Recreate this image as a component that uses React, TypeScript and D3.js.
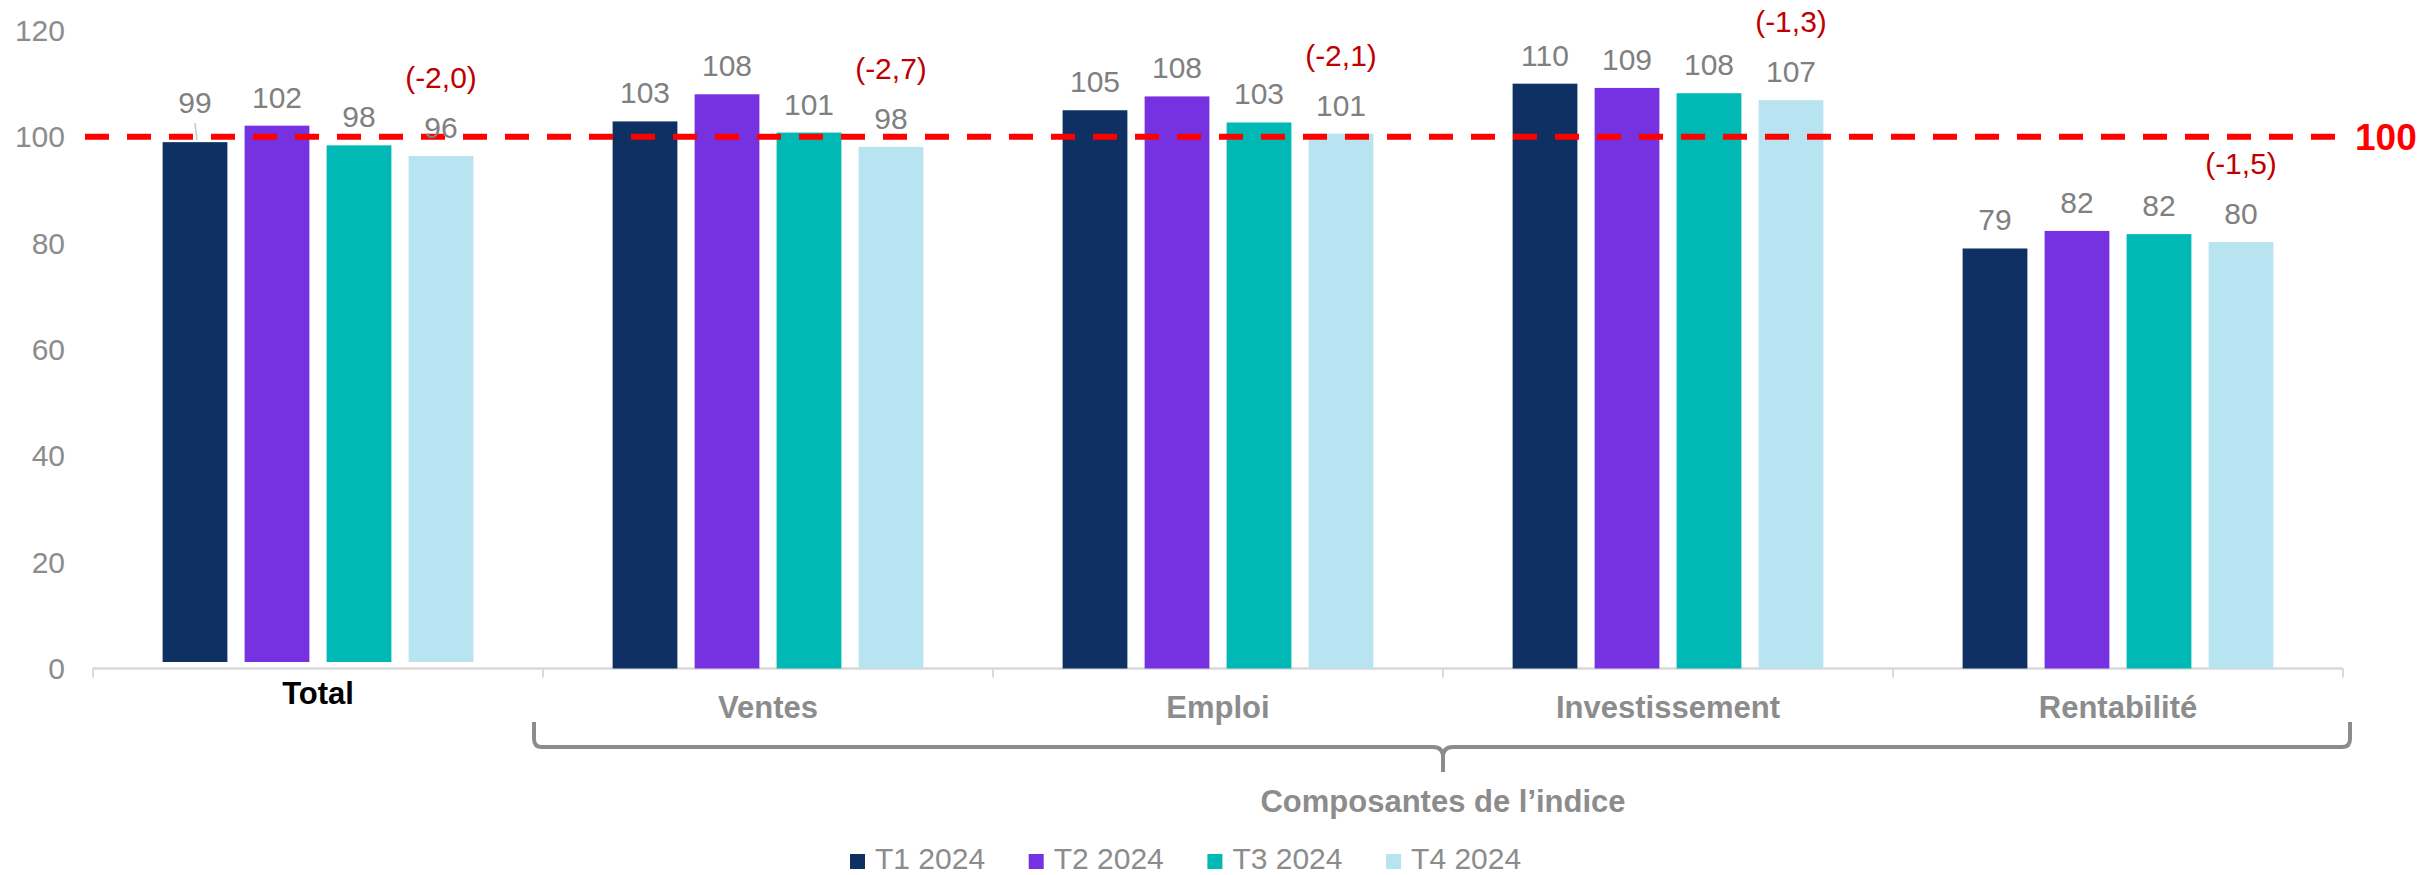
import React from 'react';
import * as d3 from 'd3';

const categories = ['Total', 'Ventes', 'Emploi', 'Investissement', 'Rentabilité'];
const seriesNames = ['T1 2024', 'T2 2024', 'T3 2024', 'T4 2024'];
const seriesColors = ['#0f3062', '#7631e0', '#00b9b5', '#b8e3f0'];
const t1 = [99.0, 102.9, 105.0, 110.0, 79.0];
const t2 = [102.1, 108.0, 107.6, 109.2, 82.3];
const t3 = [98.4, 100.8, 102.7, 108.2, 81.7];
const t4 = [96.4, 98.1, 100.6, 106.9, 80.2];
const changes = ['(-2,0)', '(-2,7)', '(-2,1)', '(-1,3)', '(-1,5)'];
const yTicks = [0, 20, 40, 60, 80, 100, 120];
const referenceValue = 100;
const groupTitle = 'Composantes de l\u2019indice';

const series = [t1, t2, t3, t4];
const FONT = '"Liberation Sans", Arial, sans-serif';
const W = 2433;
const H = 875;

export default function App() {
  const x0 = d3.scaleBand<string>().domain(categories).range([93, 2343]);
  const x1 = d3
    .scaleBand<string>()
    .domain(seriesNames)
    .range([0, x0.bandwidth()])
    .paddingInner(0.21)
    .paddingOuter(0.849);
  const y = d3.scaleLinear().domain([0, 120]).range([668.5, 30.5]);
  const axisY = y(0);
  const boundaries = categories.map((c) => x0(c)!).concat([x0.range()[1]]);

  const bracketL = x0(categories[1])! - 9;
  const bracketR = x0.range()[1] + 7;
  const bracketMid = x0(categories[3])!;
  const bTop = 722;
  const bY = 747;
  const bracketPath =
    `M${bracketL},${bTop} L${bracketL},${bY - 8} Q${bracketL},${bY} ${bracketL + 8},${bY} ` +
    `L${bracketMid - 10},${bY} Q${bracketMid},${bY} ${bracketMid},${bY + 10} L${bracketMid},${bY + 25} ` +
    `M${bracketMid},${bY + 10} Q${bracketMid},${bY} ${bracketMid + 10},${bY} ` +
    `L${bracketR - 8},${bY} Q${bracketR},${bY} ${bracketR},${bY - 8} L${bracketR},${bTop}`;

  return (
    <svg
      width={W}
      height={H}
      style={{ position: 'absolute', left: 0, top: 0, background: '#fff' }}
      fontFamily={FONT}
    >
      {/* y tick labels */}
      {yTicks.map((t) => (
        <text key={t} x={65} y={y(t) + 10.5} textAnchor="end" fontSize={30} fill="#8c8c8c">
          {t}
        </text>
      ))}

      {/* x axis line and ticks */}
      <line x1={93} x2={2343} y1={axisY} y2={axisY} stroke="#d9d9d9" strokeWidth={2.5} />
      {boundaries.map((b, i) => (
        <line key={i} x1={b} x2={b} y1={axisY} y2={axisY + 9} stroke="#d9d9d9" strokeWidth={2} />
      ))}

      {/* bars */}
      {categories.map((c, ci) => {
        const base = ci === 0 ? axisY - 6.5 : axisY;
        return (
          <g key={c} transform={`translate(${x0(c)},0)`}>
            {seriesNames.map((s, si) => {
              const v = series[si][ci];
              return (
                <rect
                  key={s}
                  x={x1(s)}
                  y={y(v)}
                  width={x1.bandwidth()}
                  height={base - y(v)}
                  fill={seriesColors[si]}
                />
              );
            })}
          </g>
        );
      })}

      {/* reference line */}
      <line
        x1={85}
        x2={2335}
        y1={y(referenceValue)}
        y2={y(referenceValue)}
        stroke="#ff0000"
        strokeWidth={6}
        strokeDasharray="24 18"
      />
      <text x={2355} y={y(referenceValue) + 13} fontSize={37} fontWeight="bold" fill="#ff0000">
        {referenceValue}
      </text>

      {/* data labels */}
      {categories.map((c, ci) =>
        seriesNames.map((s, si) => {
          const v = series[si][ci];
          const cx = x0(c)! + x1(s)! + x1.bandwidth() / 2;
          const lifted = ci === 0 && si === 0;
          const by = y(v) - (lifted ? 29 : 18);
          return (
            <g key={c + s}>
              {lifted && (
                <line x1={cx} y1={by + 10} x2={cx + 2} y2={y(v) - 2} stroke="#c8c8c8" strokeWidth={1.5} />
              )}
              <text x={cx} y={by} textAnchor="middle" fontSize={30} fill="#808080">
                {Math.round(v)}
              </text>
            </g>
          );
        })
      )}

      {/* change annotations */}
      {categories.map((c, ci) => {
        const s = seriesNames[3];
        const cx = x0(c)! + x1(s)! + x1.bandwidth() / 2;
        const by = y(t4[ci]) - 18 - 50;
        return (
          <text key={c} x={cx} y={by} textAnchor="middle" fontSize={30} fill="#c00000">
            {changes[ci]}
          </text>
        );
      })}

      {/* category labels */}
      {categories.map((c, ci) => (
        <text
          key={c}
          x={x0(c)! + x0.bandwidth() / 2}
          y={ci === 0 ? 704 : 718}
          textAnchor="middle"
          fontSize={31}
          fontWeight="bold"
          fill={ci === 0 ? '#000000' : '#8c8c8c'}
        >
          {c}
        </text>
      ))}

      {/* bracket */}
      <path d={bracketPath} fill="none" stroke="#8c8c8c" strokeWidth={4} />
      <text x={bracketMid} y={812} textAnchor="middle" fontSize={31} fontWeight="bold" fill="#8c8c8c">
        {groupTitle}
      </text>

      {/* legend */}
      {seriesNames.map((s, i) => {
        const lx = 850 + i * 178.7;
        return (
          <g key={s}>
            <rect x={lx} y={854} width={15} height={15} fill={seriesColors[i]} />
            <text x={lx + 25} y={869} fontSize={30} fill="#8c8c8c">
              {s}
            </text>
          </g>
        );
      })}
    </svg>
  );
}
